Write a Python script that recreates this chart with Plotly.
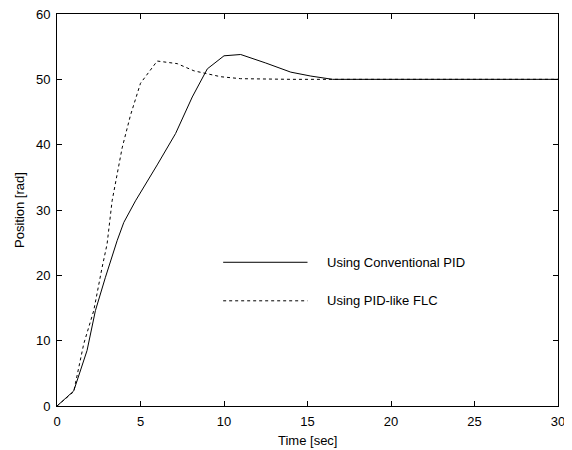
import plotly.graph_objects as go

# Conventional PID response
pid_t = [0, 1.0, 1.8, 2.3, 2.9, 3.6, 4.0, 4.7, 6.0, 7.1, 8.1, 9.0, 10.0, 11.0, 12.5, 14.0, 15.2, 16.5, 20, 25, 30]
pid_y = [0, 2.3, 8.5, 14.6, 19.7, 25.3, 28.1, 31.4, 36.9, 41.7, 47.3, 51.6, 53.6, 53.8, 52.5, 51.1, 50.5, 50.0, 50, 50, 50]

# PID-like FLC response
flc_t = [0, 1.0, 1.6, 2.2, 2.7, 3.0, 3.3, 3.9, 4.4, 5.0, 6.0, 7.2, 8.2, 9.8, 11.0, 14.0, 20, 25, 30]
flc_y = [0, 2.2, 9.5, 14.6, 21.2, 24.8, 31.4, 39.5, 44.5, 49.4, 52.8, 52.4, 51.3, 50.4, 50.1, 50.0, 50, 50, 50]

legend_labels = ["Using Conventional PID", "Using PID-like FLC"]
x_ticks = [0, 5, 10, 15, 20, 25, 30]
y_ticks = [0, 10, 20, 30, 40, 50, 60]
x_title = "Time [sec]"
y_title = "Position [rad]"

FONT = "Arial, Liberation Sans, sans-serif"
FS = 13

fig = go.Figure()
fig.add_trace(go.Scatter(x=pid_t, y=pid_y, mode="lines",
                         line=dict(color="black", width=1), name=legend_labels[0], showlegend=False))
fig.add_trace(go.Scatter(x=flc_t, y=flc_y, mode="lines",
                         line=dict(color="black", width=1, dash="3px,3px"), name=legend_labels[1], showlegend=False))

# in-plot legend (drawn like the original MATLAB legend)
fig.add_shape(type="line", xref="x", yref="y", x0=9.95, x1=15.0, y0=22.0, y1=22.0,
              line=dict(color="black", width=1))
fig.add_shape(type="line", xref="x", yref="y", x0=9.95, x1=15.0, y0=16.1, y1=16.1,
              line=dict(color="black", width=1, dash="3px,3px"))
fig.add_annotation(x=16.05, y=22.0, xref="x", yref="y", text=legend_labels[0], showarrow=False,
                   xanchor="left", yanchor="middle", font=dict(size=FS, color="black"))
fig.add_annotation(x=16.05, y=16.1, xref="x", yref="y", text=legend_labels[1], showarrow=False,
                   xanchor="left", yanchor="middle", font=dict(size=FS, color="black"))

# axis titles
fig.add_annotation(x=0.5, y=0, xref="paper", yref="paper", text=x_title, showarrow=False,
                   xanchor="center", yanchor="top", yshift=-25, font=dict(size=FS, color="black"))
fig.add_annotation(x=0, y=0.5, xref="paper", yref="paper", text=y_title, showarrow=False,
                   textangle=-90, xanchor="center", yanchor="middle", xshift=-38,
                   font=dict(size=FS, color="black"))

axis_common = dict(showgrid=False, zeroline=False, showline=True, linecolor="black", linewidth=1,
                   mirror="ticks", ticks="inside", ticklen=5, tickcolor="black", automargin=False,
                   ticklabeloverflow="allow", tickfont=dict(size=FS, color="black"))

fig.update_xaxes(range=[0, 30], tickvals=x_ticks, ticklabelstandoff=3, **axis_common)
fig.update_yaxes(range=[0, 60], tickvals=y_ticks, ticklabelstandoff=3, **axis_common)

# page body adds an 8px offset; size the figure so the plot box lands where the reference has it
fig.update_layout(width=564, height=442, paper_bgcolor="white", plot_bgcolor="white",
                  margin=dict(l=49, r=14, t=6, b=44),
                  font=dict(family=FONT, size=FS, color="black"))

fig.write_html("out.html")
